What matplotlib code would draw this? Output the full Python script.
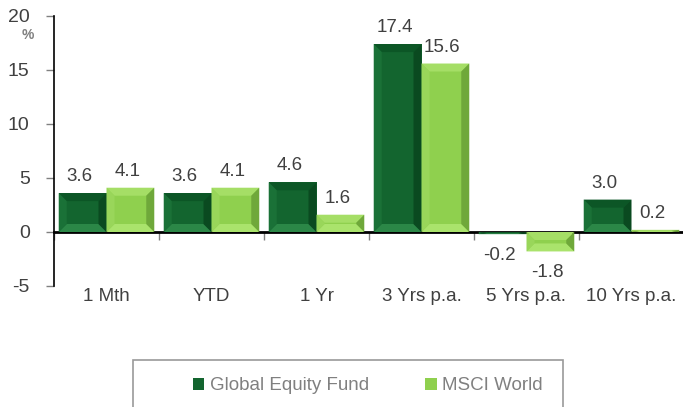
import matplotlib
matplotlib.use("Agg")
import matplotlib.pyplot as plt
from matplotlib.patches import Polygon, Rectangle
import numpy as np

categories = ["1 Mth", "YTD", "1 Yr", "3 Yrs p.a.", "5 Yrs p.a.", "10 Yrs p.a."]
fund = [3.6, 3.6, 4.6, 17.4, -0.2, 3.0]
msci = [4.1, 4.1, 1.6, 15.6, -1.8, 0.2]
series_names = ["Global Equity Fund", "MSCI World"]
yticks = [-5, 0, 5, 10, 15, 20]

plt.rcParams['font.family'] = ['Liberation Sans', 'DejaVu Sans']

W, H = 683, 407
fig = plt.figure(figsize=(W / 100, H / 100), dpi=100)
ax_left, ax_right, ax_top, ax_bot = 54, 684, 16, 286
ax = fig.add_axes([ax_left / W, 1 - ax_bot / H, (ax_right - ax_left) / W, (ax_bot - ax_top) / H])
ax.set_xlim(-0.5, len(categories) - 0.5)
ax.set_ylim(-5, 20)

x = np.arange(len(categories))
bw = 0.455
dark = dict(face="#13652F", top="#0C5626", left="#1A7137", right="#0A4A20", bottom="#2B8747")
light = dict(face="#8FD04E", top="#A5DE66", left="#99D65A", right="#6FA83A", bottom="#AAE36C")

px_x = (len(categories)) / (ax_right - ax_left)
px_y = 25 / (ax_bot - ax_top)

def bevel(rects, pal):
    for r in rects:
        x0 = r.get_x(); x1 = x0 + r.get_width()
        y0 = min(r.get_y(), r.get_y() + r.get_height())
        y1 = max(r.get_y(), r.get_y() + r.get_height())
        h = y1 - y0
        bx = 8 * px_x
        by = min(8 * px_y, h / 2)
        xi0, xi1, yi0, yi1 = x0 + bx, x1 - bx, y0 + by, y1 - by
        polys = [
            ([(x0, y1), (x1, y1), (xi1, yi1), (xi0, yi1)], pal["top"]),
            ([(x0, y0), (x1, y0), (xi1, yi0), (xi0, yi0)], pal["bottom"]),
            ([(x0, y0), (x0, y1), (xi0, yi1), (xi0, yi0)], pal["left"]),
            ([(x1, y0), (x1, y1), (xi1, yi1), (xi1, yi0)], pal["right"]),
        ]
        for pts, c in polys:
            ax.add_patch(Polygon(pts, closed=True, facecolor=c, edgecolor="none", zorder=3))

b1 = ax.bar(x - bw / 2, fund, bw, color=dark["face"], label=series_names[0], zorder=2)
b2 = ax.bar(x + bw / 2, msci, bw, color=light["face"], label=series_names[1], zorder=2)
bevel(b1, dark)
bevel(b2, light)

lab_col = "#404040"
for bars, vals in ((b1, fund), (b2, msci)):
    for r, v in zip(bars, vals):
        cx = r.get_x() + r.get_width() / 2
        if v >= 0:
            ax.annotate(f"{v:.1f}", (cx, v), xytext=(-3, 8), textcoords="offset pixels",
                        ha="center", va="bottom", fontsize=13.5, color=lab_col)
        else:
            ax.annotate(f"{v:.1f}", (cx, v), xytext=(-3, -13), textcoords="offset pixels",
                        ha="center", va="top", fontsize=13.5, color=lab_col)

for s in ("top", "right"):
    ax.spines[s].set_visible(False)
ax.spines["bottom"].set_position(("data", 0))
ax.spines["bottom"].set_linewidth(2)
ax.spines["bottom"].set_color("black")
ax.spines["left"].set_color("black")
ax.spines["left"].set_linewidth(1.2)

ax.set_yticks(yticks)
ax.set_yticklabels([str(v) for v in yticks])
ax.tick_params(axis="y", direction="out", length=6, width=1, colors="#808080", pad=11.5,
               labelsize=14, labelcolor=lab_col)
ax.set_xticks(np.arange(len(categories) + 1) - 0.5)
ax.set_xticklabels([])
ax.tick_params(axis="x", direction="out", length=6, width=1, colors="#808080")

for xi, c in zip(x, categories):
    ax.text(xi, -0.009, c, transform=ax.get_xaxis_transform(), ha="center", va="top",
            fontsize=13.5, color=lab_col)

fig.text(28 / W, 1 - 35 / H, "%", ha="center", va="center", fontsize=10, color="#808080",
         fontweight="bold")

# legend frame
fig.patches.append(Rectangle((133 / W, -0.1), 430 / W, 0.1 + (1 - 360 / H), transform=fig.transFigure,
                             facecolor="none", edgecolor="#9a9a9a", linewidth=1.2))
leg = fig.legend(handles=[b1, b2], labels=series_names, loc="center", ncol=2,
                 bbox_to_anchor=(368 / W, 1 - 386 / H), frameon=False, fontsize=13.5,
                 handlelength=0.6, handleheight=0.6, handletextpad=0.3, columnspacing=3.0,
                 labelcolor="#808080")

fig.savefig("out.png", dpi=100)
